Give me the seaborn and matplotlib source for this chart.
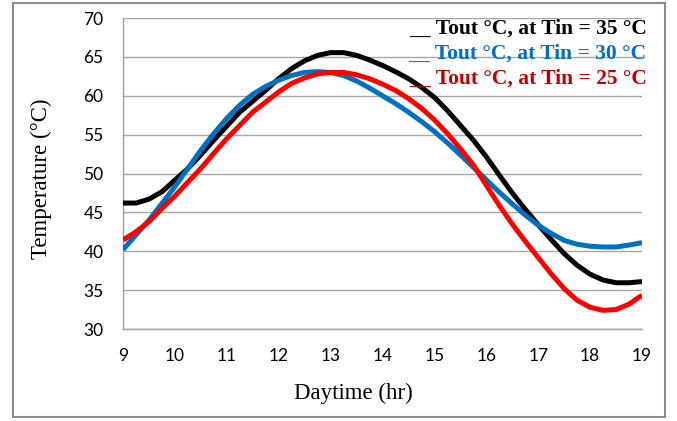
import numpy as np
import pandas as pd
import matplotlib
matplotlib.use("Agg")
import matplotlib.pyplot as plt
from matplotlib.patches import Rectangle
import seaborn as sns

# Daytime hours (quarter-hour steps)
hours = [9, 9.25, 9.5, 9.75, 10, 10.25, 10.5, 10.75, 11, 11.25, 11.5, 11.75,
         12, 12.25, 12.5, 12.75, 13, 13.25, 13.5, 13.75, 14, 14.25, 14.5, 14.75,
         15, 15.25, 15.5, 15.75, 16, 16.25, 16.5, 16.75, 17, 17.25, 17.5, 17.75,
         18, 18.25, 18.5, 18.75, 19]

# Outlet temperature (°C) for each inlet temperature
tout_tin35 = [46.2, 46.2, 46.7, 47.65, 49.15, 50.65, 52.4, 54.3, 56.1, 57.9, 59.3, 60.7,
              62.2, 63.5, 64.5, 65.2, 65.55, 65.55, 65.2, 64.6, 63.9, 63.1, 62.2, 61.1,
              59.8, 58.1, 56.2, 54.3, 52.15, 49.8, 47.5, 45.4, 43.4, 41.5, 39.7, 38.2,
              37.05, 36.3, 35.95, 35.95, 36.1]
tout_tin30 = [40.2, 42.1, 44.0, 46.15, 48.3, 50.65, 53.0, 55.15, 57.1, 58.8, 60.2, 61.2,
              62.0, 62.6, 63.0, 63.1, 63.0, 62.6, 61.9, 61.0, 60.0, 59.0, 57.9, 56.7,
              55.4, 53.95, 52.4, 50.8, 49.2, 47.6, 46.1, 44.65, 43.35, 42.3, 41.4, 40.9,
              40.65, 40.55, 40.55, 40.8, 41.1]
tout_tin25 = [41.45, 42.5, 43.8, 45.5, 47.1, 48.9, 50.65, 52.6, 54.5, 56.2, 57.9, 59.2,
              60.5, 61.6, 62.3, 62.8, 63.0, 63.0, 62.7, 62.2, 61.5, 60.7, 59.65, 58.4,
              56.9, 55.15, 53.2, 51.1, 48.5, 45.9, 43.5, 41.3, 39.2, 37.1, 35.2, 33.7,
              32.8, 32.4, 32.5, 33.2, 34.35]

series_labels = ["Tout °C, at Tin = 35 °C", "Tout °C, at Tin = 30 °C", "Tout °C, at Tin = 25 °C"]
line_colors = ["#000000", "#0070C0", "#FF0000"]
text_colors = ["#000000", "#0070C0", "#C00000"]

y_ticks = [30, 35, 40, 45, 50, 55, 60, 65, 70]
x_ticks = [9, 10, 11, 12, 13, 14, 15, 16, 17, 18, 19]

df = pd.DataFrame({
    "hour": hours * 3,
    "temp": tout_tin35 + tout_tin30 + tout_tin25,
    "series": [series_labels[0]] * len(hours) + [series_labels[1]] * len(hours)
              + [series_labels[2]] * len(hours),
})

sns.set_theme(style="white")
fig = plt.figure(figsize=(6.77, 4.21), dpi=100)
ax = fig.add_axes([0.1817, 0.2185, 0.7666, 0.7387])

sns.lineplot(data=df, x="hour", y="temp", hue="series", hue_order=series_labels,
             palette=line_colors, linewidth=3.6, legend=False, ax=ax, zorder=3)
for ln in ax.lines:
    ln.set_solid_capstyle("butt")
    ln.set_solid_joinstyle("round")

ax.set_xlim(9, 19)
ax.set_ylim(30, 70)
ax.set_xticks(x_ticks)
ax.set_yticks(y_ticks)
ax.tick_params(axis="both", length=0, labelsize=12.5, colors="#000000")
ax.tick_params(axis="y", pad=14)
ax.tick_params(axis="x", pad=14)
for lab in ax.get_xticklabels() + ax.get_yticklabels():
    lab.set_fontfamily("Lato")

ax.yaxis.grid(True, color="#a6a6a6", linewidth=1.0)
ax.xaxis.grid(False)
for side in ["top", "right"]:
    ax.spines[side].set_visible(False)
for side in ["left", "bottom"]:
    ax.spines[side].set_color("#a0a0a0")
    ax.spines[side].set_linewidth(1.0)

ax.set_xlabel("")
ax.set_ylabel("")
fig.text(353 / 677, 1 - 393 / 421, "Daytime (hr)", ha="center", va="center",
         fontfamily="Liberation Serif", fontsize=16.5, color="#000000")
fig.text(41 / 677, 1 - 179 / 421, "Temperature (°C)", ha="center", va="center",
         rotation=90, fontfamily="Liberation Serif", fontsize=16.5, color="#000000")

# Series key written as coloured text lines in the top-right corner
legend_y = [68.68, 65.46, 62.25]
for lbl, col, yy in zip(series_labels, text_colors, legend_y):
    ax.text(19.09, yy, "__ " + lbl, ha="right", va="center", color=col,
            fontfamily="Liberation Serif", fontweight="bold", fontsize=15.5, zorder=4)

# Grey frame around the whole figure
fig.patches.append(Rectangle((13 / 677, 1 - 417 / 421), 652 / 677, 414 / 421,
                             transform=fig.transFigure, fill=False,
                             edgecolor="#8c8c8c", linewidth=1.5))

fig.savefig("out.png", dpi=100)
